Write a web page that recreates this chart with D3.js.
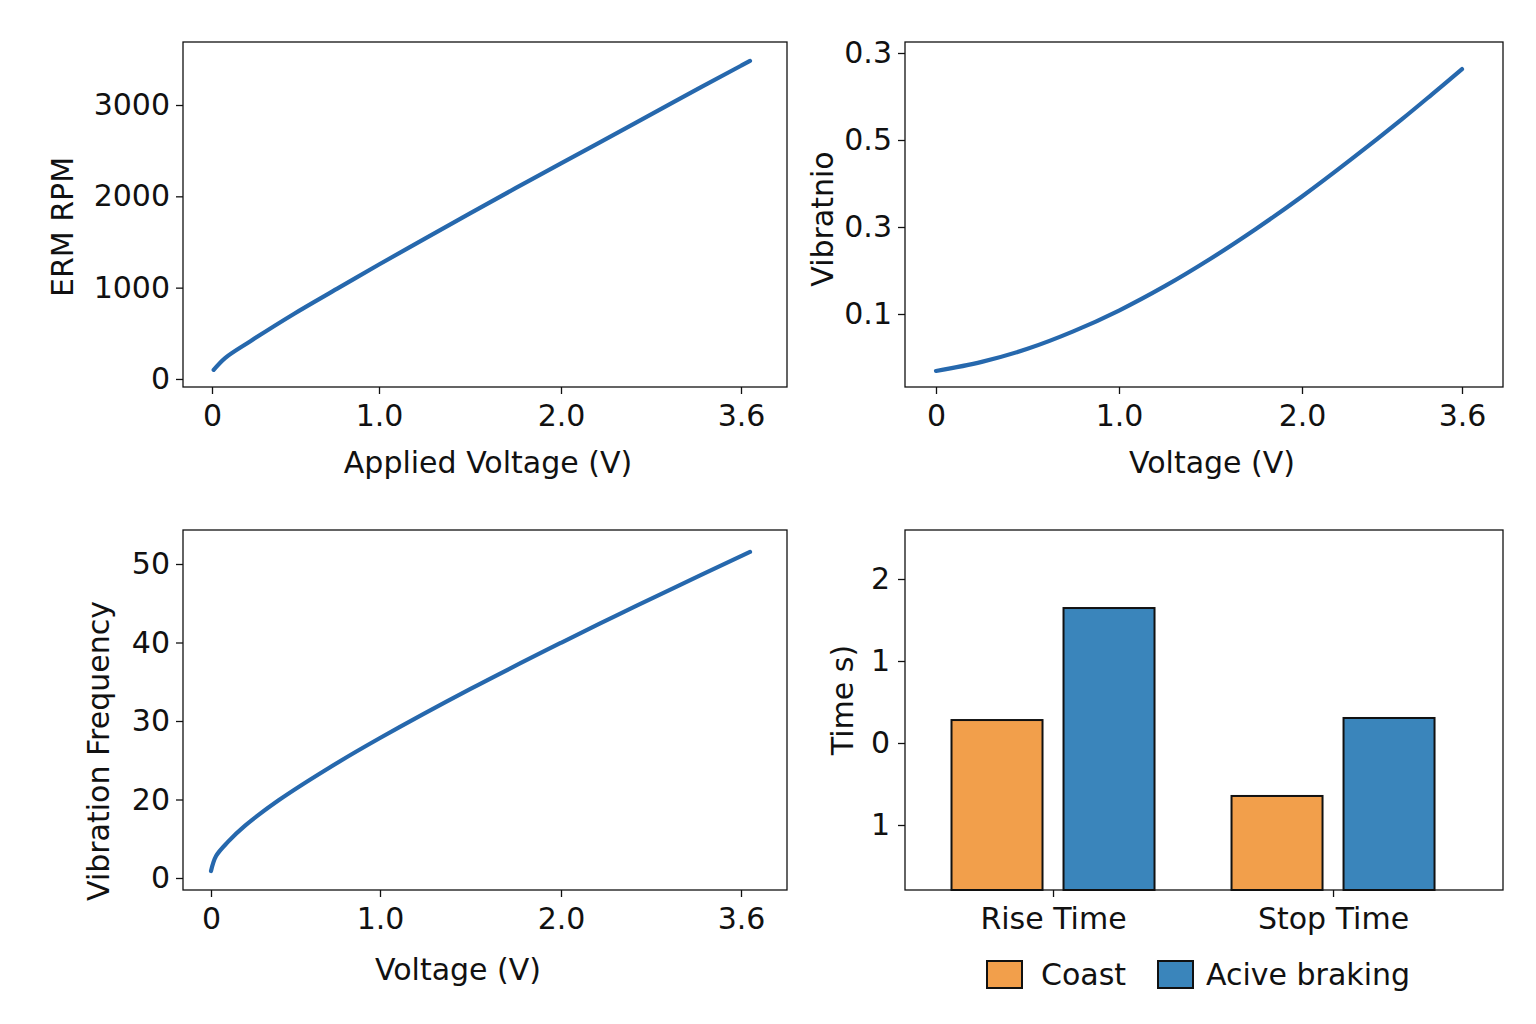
<!DOCTYPE html>
<html>
<head>
<meta charset="utf-8">
<script src="https://cdn.jsdelivr.net/npm/d3@7"></script>
<style>
  html, body { margin: 0; padding: 0; background: #fff; }
  svg { display: block; }
  text { font-family: "DejaVu Sans", sans-serif; fill: #111; }
</style>
</head>
<body>
<svg id="chart" width="1536" height="1024"></svg>
<script>
// ---------- DATA ----------
const voltageTicks = [0, 1.0, 2.0, 3.6];
const voltageTickLabels = ["0", "1.0", "2.0", "3.6"];

// Panel 1: ERM RPM vs applied voltage
const rpmVoltage = [0.01, 0.08, 0.23, 0.49, 0.75, 1.0, 1.25, 1.5, 1.75, 2.0, 2.5, 3.0, 3.6, 3.68];
const rpmValues  = [100, 232, 414, 712, 989, 1253, 1534, 1813, 2089, 2361, 2695, 3032, 3430, 3483];
const rpmTicks = [0, 1000, 2000, 3000];
const rpmTickLabels = ["0", "1000", "2000", "3000"];

// Panel 2: vibration amplitude vs voltage
const ampVoltage = [0, 0.25, 0.5, 0.75, 1.0, 1.25, 1.5, 1.75, 2.0, 2.5, 3.0, 3.3, 3.6];
const ampValues  = [-0.031, -0.010, 0.020, 0.060, 0.108, 0.164, 0.227, 0.296, 0.370, 0.457, 0.548, 0.605, 0.663];
const ampTicks = [0.1, 0.3, 0.5, 0.7];
const ampTickLabels = ["0.1", "0.3", "0.5", "0.3"];

// Panel 3: vibration frequency vs voltage
const freqVoltage = [0, 0.03, 0.1, 0.2, 0.4, 0.7, 1.0, 1.5, 2.0, 2.5, 3.0, 3.6, 3.68];
const freqValues  = [10.89, 12.8, 14.6, 16.64, 19.90, 24.05, 27.83, 34.09, 39.96, 43.49, 46.94, 51.01, 51.54];
const freqTicks = [10, 20, 30, 40, 50];
const freqTickLabels = ["0", "20", "30", "40", "50"];

// Panel 4: timing bars
const timeCategories = ["Rise Time", "Stop Time"];
const timeSeries = ["Coast", "Acive braking"];
const coastTimes = [0.28, -0.646];
const brakingTimes = [1.646, 0.305];
const timeTicks = [-1, 0, 1, 2];
const timeTickLabels = ["1", "0", "1", "2"];

// ---------- STYLE ----------
const FONT = 30;
const lineColor = "#2668ad";
const seriesColors = ["#f29f4b", "#3a85bb"];

const svg = d3.select("#chart");

function frame(g, w, h) {
  g.append("rect").attr("x", 0).attr("y", 0).attr("width", w).attr("height", h)
    .attr("fill", "none").attr("stroke", "#111").attr("stroke-width", 1.3);
}

function styleAxis(sel) {
  sel.select(".domain").remove();
  sel.selectAll(".tick line").attr("stroke", "#111").attr("stroke-width", 1.3);
  sel.selectAll(".tick text").attr("font-size", FONT).attr("fill", "#111")
    .attr("font-family", "DejaVu Sans, sans-serif");
}

function linePanel(opts) {
  const { x0, y0, w, h, xRange, yScale, xVals, yVals,
          yTicks, yTickLabels, xLabel, yLabel, xLabelY, yLabelX, yLabelCY } = opts;
  const g = svg.append("g").attr("transform", `translate(${x0},${y0})`);
  const x = d3.scaleLinear().domain(voltageTicks).range(xRange);
  const y = yScale.range([h, 0]);

  const line = d3.line().x((d, i) => x(xVals[i])).y((d, i) => y(yVals[i]))
    .curve(d3.curveCatmullRom.alpha(0.5));
  g.append("path").datum(yVals).attr("d", line)
    .attr("fill", "none").attr("stroke", lineColor).attr("stroke-width", 4.2)
    .attr("stroke-linecap", "round");

  const xa = g.append("g").attr("transform", `translate(0,${h})`)
    .call(d3.axisBottom(x).tickValues(voltageTicks)
      .tickFormat((d, i) => voltageTickLabels[i]).tickSize(7).tickPadding(11));
  styleAxis(xa);
  const ya = g.append("g")
    .call(d3.axisLeft(y).tickValues(yTicks)
      .tickFormat((d, i) => yTickLabels[i]).tickSize(7).tickPadding(6));
  styleAxis(ya);
  frame(g, w, h);

  svg.append("text").attr("x", x0 + xLabelY[0]).attr("y", xLabelY[1])
    .attr("text-anchor", "middle").attr("font-size", FONT).text(xLabel);
  svg.append("text")
    .attr("transform", `translate(${yLabelX},${yLabelCY}) rotate(-90)`)
    .attr("text-anchor", "middle").attr("dy", "0.35em")
    .attr("font-size", FONT).text(yLabel);
}

// Panel 1
linePanel({
  x0: 183, y0: 42, w: 604, h: 345,
  xRange: [29, 196, 378, 558],
  yScale: d3.scaleLinear().domain([-88, 3690]),
  xVals: rpmVoltage, yVals: rpmValues,
  yTicks: rpmTicks, yTickLabels: rpmTickLabels,
  xLabel: "Applied Voltage (V)", yLabel: "ERM RPM",
  xLabelY: [305, 473], yLabelX: 62, yLabelCY: 227
});

// Panel 2
linePanel({
  x0: 905, y0: 42, w: 598, h: 345,
  xRange: [31, 214, 397, 557],
  yScale: d3.scaleLinear().domain([0.1 - (387 - 314) / 435, 0.1 + (314 - 42) / 435]),
  xVals: ampVoltage, yVals: ampValues,
  yTicks: ampTicks, yTickLabels: ampTickLabels,
  xLabel: "Voltage (V)", yLabel: "Vibratnio",
  xLabelY: [307, 473], yLabelX: 822, yLabelCY: 219
});

// Panel 3
linePanel({
  x0: 183, y0: 530, w: 604, h: 360,
  xRange: [28, 197, 378, 558],
  yScale: d3.scaleLinear().domain([10 - (890 - 878) / 7.85, 10 + (878 - 530) / 7.85]),
  xVals: freqVoltage, yVals: freqValues,
  yTicks: freqTicks, yTickLabels: freqTickLabels,
  xLabel: "Voltage (V)", yLabel: "Vibration Frequency",
  xLabelY: [275, 980], yLabelX: 98, yLabelCY: 751
});

// Panel 4: bars
(function () {
  const x0 = 905, y0 = 530, w = 598, h = 360;
  const g = svg.append("g").attr("transform", `translate(${x0},${y0})`);
  const x = d3.scaleLinear().domain([-0.5286, 1.607]).range([0, w]);
  const y = d3.scaleLinear().domain([-1 - 65 / 82, 2 + 49 / 82]).range([h, 0]);
  const base = y.domain()[0];
  const barW = 0.325, off = 0.2;
  const groups = [coastTimes, brakingTimes];

  groups.forEach((vals, s) => {
    g.selectAll(null).data(vals).enter().append("rect")
      .attr("x", (d, i) => x(i + (s === 0 ? -off : off) - barW / 2))
      .attr("width", x(barW) - x(0))
      .attr("y", d => y(d))
      .attr("height", d => y(base) - y(d))
      .attr("fill", seriesColors[s]).attr("stroke", "#111").attr("stroke-width", 2);
  });

  const xa = g.append("g").attr("transform", `translate(0,${h})`)
    .call(d3.axisBottom(x).tickValues([0, 1])
      .tickFormat((d, i) => timeCategories[i]).tickSize(7).tickPadding(11));
  styleAxis(xa);
  const ya = g.append("g")
    .call(d3.axisLeft(y).tickValues(timeTicks)
      .tickFormat((d, i) => timeTickLabels[i]).tickSize(7).tickPadding(8));
  styleAxis(ya);
  frame(g, w, h);

  svg.append("text")
    .attr("transform", `translate(842,700) rotate(-90)`)
    .attr("text-anchor", "middle").attr("dy", "0.35em")
    .attr("font-size", FONT).text("Time s)");

  // legend
  const lg = svg.append("g");
  const items = [{ x: 987, tx: 1041 }, { x: 1158, tx: 1206 }];
  items.forEach((it, i) => {
    lg.append("rect").attr("x", it.x).attr("y", 961).attr("width", 35).attr("height", 27)
      .attr("fill", seriesColors[i]).attr("stroke", "#111").attr("stroke-width", 2);
    lg.append("text").attr("x", it.tx).attr("y", 985).attr("font-size", FONT)
      .text(timeSeries[i]);
  });
})();
</script>
</body>
</html>
